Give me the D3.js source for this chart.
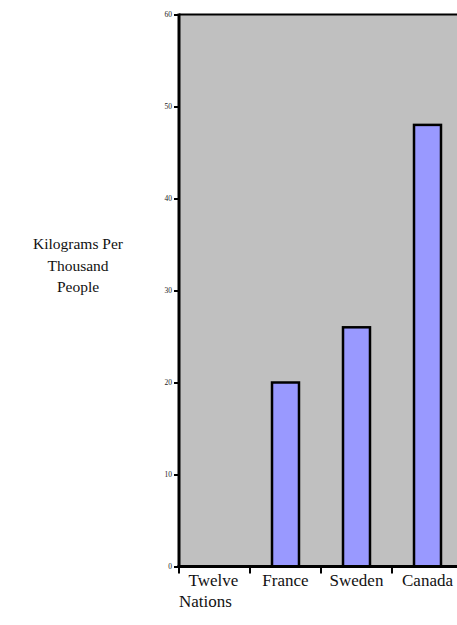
<!DOCTYPE html>
<html>
<head>
<meta charset="utf-8">
<script src="https://cdn.jsdelivr.net/npm/d3@7"></script>
<style>
  html, body { margin: 0; padding: 0; background: #fff; }
  svg { display: block; }
</style>
</head>
<body>
<svg id="chart" width="457" height="625"></svg>
<script>
const categories = ["Twelve Nations", "France", "Sweden", "Canada"];
const categoryLines = [["Twelve", "Nations"], ["France"], ["Sweden"], ["Canada"]];
const values = [0, 20, 26, 48];
const yTicks = [0, 10, 20, 30, 40, 50, 60];
const yTitleLines = ["Kilograms Per", "Thousand", "People"];

(function () {
const FONT = "'Liberation Serif', 'Times New Roman', 'DejaVu Serif', serif";
const svg = d3.select("#chart");
const pLeft = 179, pRight = 463, pTop = 14.5, pBottom = 566.5;

const x = d3.scaleBand().domain(categories).range([pLeft, pRight])
  .paddingInner(0.62).paddingOuter(0.31);
const xb = d3.scaleBand().domain(categories).range([pLeft, pRight]).padding(0);
const y = d3.scaleLinear().domain([0, 60]).range([pBottom, pTop]);

// plot background
svg.append("rect").attr("x", pLeft).attr("y", pTop)
  .attr("width", pRight - pLeft).attr("height", pBottom - pTop)
  .attr("fill", "#c0c0c0");

// top border
svg.append("line").attr("x1", pLeft).attr("x2", pRight + 5)
  .attr("y1", pTop).attr("y2", pTop)
  .attr("stroke", "#000").attr("stroke-width", 2);

// bars
svg.selectAll("rect.bar").data(categories.map((c, i) => ({c, v: values[i]})).filter(d => d.v > 0))
  .enter().append("rect").attr("class", "bar")
  .attr("x", d => x(d.c)).attr("width", x.bandwidth())
  .attr("y", d => y(d.v)).attr("height", d => y(0) - y(d.v))
  .attr("fill", "#9999ff").attr("stroke", "#000").attr("stroke-width", 2.5);

// y axis
const yAxis = d3.axisLeft(y).tickValues(yTicks).tickSize(5).tickPadding(2);
const gy = svg.append("g").attr("transform", `translate(${pLeft},0)`).call(yAxis)
  .attr("font-family", FONT);
gy.select(".domain").remove();
gy.selectAll(".tick line").attr("stroke", "#000").attr("stroke-width", 2);
gy.selectAll(".tick text").attr("font-size", 7.5).attr("fill", "#222")
  .attr("dy", "0.2em");
svg.append("line").attr("x1", pLeft).attr("x2", pLeft)
  .attr("y1", pTop - 1).attr("y2", pBottom + 1.5)
  .attr("stroke", "#000").attr("stroke-width", 3);

// x axis
svg.append("line").attr("x1", pLeft - 1.5).attr("x2", pRight + 5)
  .attr("y1", pBottom).attr("y2", pBottom)
  .attr("stroke", "#000").attr("stroke-width", 3);
const xAxis = d3.axisBottom(xb).tickSize(0).tickFormat("");
const gx = svg.append("g").attr("transform", `translate(0,${pBottom})`).call(xAxis);
gx.select(".domain").remove();
gx.selectAll(".bound").data(categories).enter().append("line")
  .attr("class", "bound")
  .attr("x1", d => xb(d)).attr("x2", d => xb(d))
  .attr("y1", 0).attr("y2", 7)
  .attr("stroke", "#000").attr("stroke-width", 2);

// x labels
const lineShift = [[-1, -9], [0], [0], [0]];
categories.forEach((c, i) => {
  const cx = xb(c) + xb.bandwidth() / 2;
  const t = svg.append("text")
    .attr("x", cx)
    .attr("y", 586)
    .attr("text-anchor", "middle")
    .attr("font-family", FONT)
    .attr("font-size", 17)
    .attr("fill", "#111");
  categoryLines[i].forEach((ln, j) => {
    t.append("tspan").attr("x", cx + lineShift[i][j])
      .attr("dy", j === 0 ? 0 : 21).text(ln);
  });
});

// y title
const yt = svg.append("text").attr("x", 78).attr("y", 249)
  .attr("text-anchor", "middle").attr("font-family", FONT)
  .attr("font-size", 15.5).attr("fill", "#111");
yTitleLines.forEach((ln, j) => {
  yt.append("tspan").attr("x", 78).attr("dy", j === 0 ? 0 : 21.5).text(ln);
});
})();
</script>
</body>
</html>
